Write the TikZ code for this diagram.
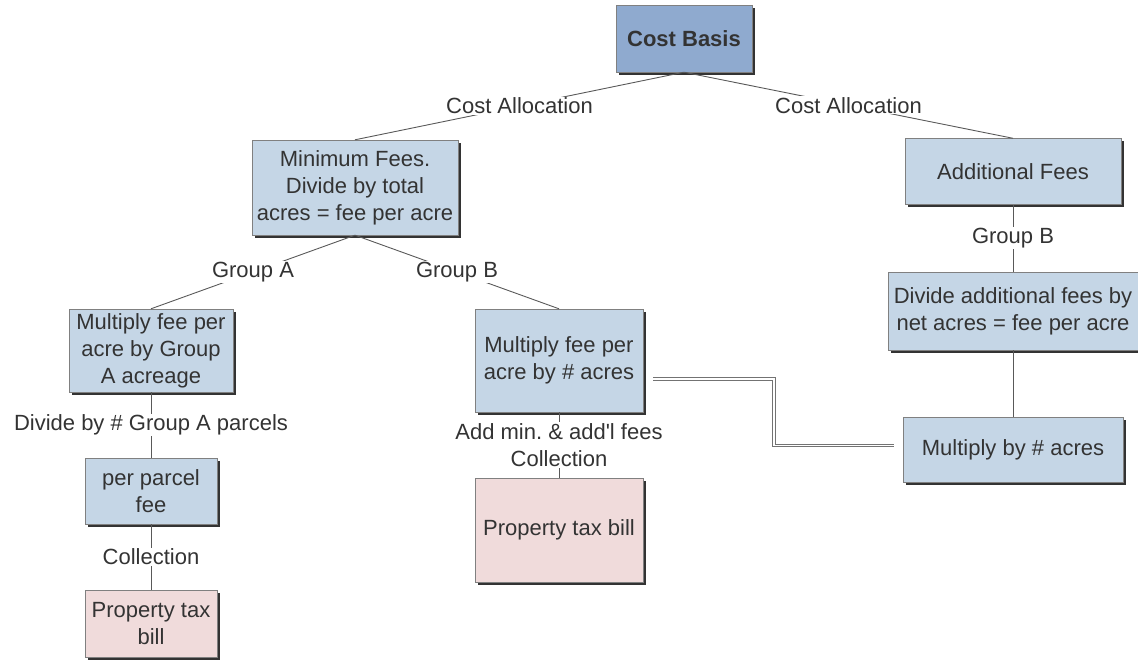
\documentclass[tikz,border=0pt]{standalone}
\usepackage{fontspec}
\setmainfont{Liberation Sans}
\usetikzlibrary{shadows,calc}

\definecolor{boxblue}{RGB}{197,214,230}
\definecolor{topblue}{RGB}{143,170,207}
\definecolor{billpink}{RGB}{240,219,219}
\definecolor{ink}{RGB}{51,51,51}
\newcommand{\dfont}{\fontsize{22}{27}\selectfont}

\tikzset{
  box/.style={draw=black!50, fill=boxblue, text=ink, align=center, inner sep=0pt,
    drop shadow={shadow xshift=3pt, shadow yshift=-3pt, fill=black!80, opacity=1}},
  lbl/.style={fill=white, text=ink, inner sep=1pt, align=center},
  link/.style={draw=black!65, line width=0.9pt},
  dlink/.style={draw=black!55, line width=0.9pt, double=white, double distance=1.6pt}
}

\begin{document}
\begin{tikzpicture}[x=1pt,y=-1pt,font=\dfont]
     \useasboundingbox (0,0) rectangle (1138,660);
     % boxes
     \node[box,fill=topblue,minimum width=136pt,minimum height=67pt,font=\dfont\bfseries] (basis) at (684,38.5) {Cost Basis};
     \node[box,minimum width=206pt,minimum height=95pt] (minfee) at (355,187.5) {Minimum Fees.\\Divide by total\\acres = fee per acre};
     \node[box,minimum width=216pt,minimum height=66pt] (addfee) at (1013,171.5) {Additional Fees};
     \node[box,minimum width=164pt,minimum height=83pt] (multA) at (151,350.5) {Multiply fee per\\acre by Group\\A acreage};
     \node[box,minimum width=168pt,minimum height=103pt] (multB) at (559,360.5) {Multiply fee per\\acre by \# acres};
     \node[box,minimum width=250pt,minimum height=78pt] (divide) at (1013,311) {Divide additional fees by\\net acres = fee per acre};
     \node[box,minimum width=220pt,minimum height=65pt] (multacres) at (1013,449.5) {Multiply by \# acres};
     \node[box,minimum width=132pt,minimum height=66pt] (parcel) at (151,491) {per parcel\\fee};
     \node[box,fill=billpink,minimum width=168pt,minimum height=104pt] (billB) at (559,530) {Property tax bill};
     \node[box,fill=billpink,minimum width=132pt,minimum height=67pt] (billA) at (151,623.5) {Property tax\\bill};
     % connectors
     \draw[link] (basis.south) -- (minfee.north) node[lbl,midway] (allocL) {Cost Allocation};
     \draw[link] (basis.south) -- (addfee.north) node[lbl,midway] (allocR) {Cost Allocation};
     \draw[link] (minfee.south) -- (multA.north) node[lbl,midway] (grpA) {Group A};
     \draw[link] (minfee.south) -- (multB.north) node[lbl,midway] (grpB) {Group B};
     \draw[link] (addfee.south) -- (divide.north) node[lbl,midway] (grpBR) {Group B};
     \draw[link] (divide.south) -- (multacres.north);
     \draw[link] (multA.south) -- (parcel.north) node[lbl,midway] (perdiv) {Divide by \# Group A parcels};
     \draw[link] (parcel.south) -- (billA.north) node[lbl,midway] (collA) {Collection};
     \draw[link] (multB.south) -- (billB.north) node[lbl,midway] (collB) {Add min.\ \& add\textquotesingle l fees\\Collection};
     % double link
     \coordinate (dstart) at ($(multB.east)+(10,18.5)$);
     \coordinate (dend) at ($(multacres.west)+(-9,-4)$);
     \coordinate (dbend) at (774,400);
     \draw[dlink] (dstart) -| (dbend) |- (dend);
\end{tikzpicture}
\end{document}
